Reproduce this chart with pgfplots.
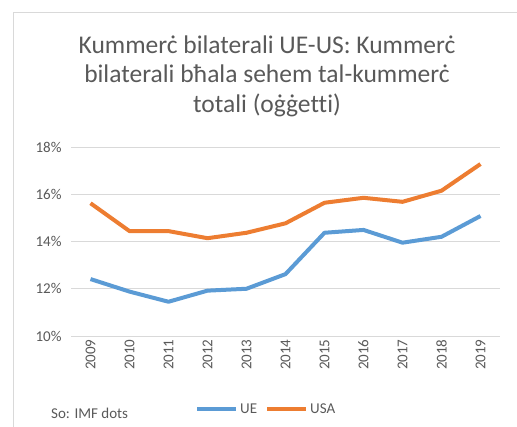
\documentclass[border=0pt]{standalone}
\usepackage{pgfplots}
\pgfplotsset{compat=1.18}
\usepackage{fontspec}
\setmainfont{Carlito}[Ligatures=CommonOff]
\definecolor{ueblue}{HTML}{5B9BD5}
\definecolor{usorange}{HTML}{ED7D31}
\definecolor{gridgray}{HTML}{D9D9D9}
\definecolor{txtgray}{HTML}{595959}
\begin{document}
\begin{tikzpicture}[x=1bp,y=1bp]
\useasboundingbox (0,0) rectangle (517,426);
\draw[gridgray,line width=1bp] (13,-10) -- (13,413) -- (530,413);
\node[txtgray,align=center,font=\fontsize{25.5bp}{29.5bp}\selectfont] at (267,350)
  {Kummerċ bilaterali UE-US: Kummerċ\\bilaterali bħala sehem tal-kummerċ\\totali (oġġetti)};
\begin{axis}[
  at={(71bp,90bp)}, anchor=south west,
  width=429bp, height=189bp, scale only axis,
  xmin=2008.5, xmax=2019.5, ymin=10, ymax=18,
  xtick={2009,...,2019}, ytick={10,12,14,16,18},
  axis line style={draw=none},
  tick style={draw=none},
  ymajorgrids, major grid style={gridgray,line width=1bp},
  /pgf/number format/assume math mode=true,
  xticklabel={\pgfmathprintnumber[1000 sep={}]{\tick}},
  yticklabel={\pgfmathprintnumber{\tick}\%},
  ticklabel style={font=\fontsize{15bp}{18bp}\selectfont, text=txtgray},
  xticklabel style={rotate=90, anchor=east},
  yticklabel style={xshift=-6bp},
  legend style={at={(0.455,-0.386)}, anchor=center, draw=none, fill=none,
    font=\fontsize{15bp}{18bp}\selectfont, text=txtgray,
    /tikz/every even column/.append style={column sep=6bp}},
  legend columns=2,
  legend image code/.code={\draw[#1,line width=4bp] (0,0) -- (39bp,0);},
  clip=false,
]
\addplot[ueblue, line width=4bp, line join=round] coordinates {
(2009,12.41) (2010,11.88) (2011,11.45) (2012,11.92) (2013,12.00) (2014,12.62)
(2015,14.37) (2016,14.49) (2017,13.95) (2018,14.20) (2019,15.08)};
\addlegendentry{UE}
\addplot[usorange, line width=4bp, line join=round] coordinates {
(2009,15.62) (2010,14.44) (2011,14.44) (2012,14.14) (2013,14.37) (2014,14.77)
(2015,15.64) (2016,15.85) (2017,15.68) (2018,16.15) (2019,17.28)};
\addlegendentry{USA}
\end{axis}
\node[anchor=west,txtgray,font=\fontsize{15bp}{18bp}\selectfont,inner sep=0] at (51,13) {So: IMF dots};
\end{tikzpicture}
\end{document}
